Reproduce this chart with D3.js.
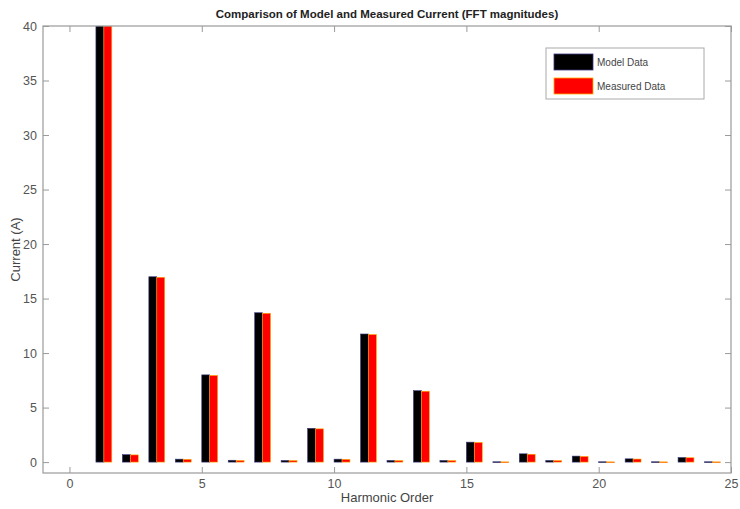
<!DOCTYPE html>
<html><head><meta charset="utf-8">
<script src="https://cdn.jsdelivr.net/npm/d3@7/dist/d3.min.js"></script>
<style>body{margin:0;background:#fff;} svg{display:block;font-family:"Liberation Sans",Arial,sans-serif;}</style>
</head><body>
<svg id="c" width="740" height="509"></svg>
<script>
const harmonics = [1,2,3,4,5,6,7,8,9,10,11,12,13,14,15,16,17,18,19,20,21,22,23,24];
const modelData = [40,0.68,17.0,0.27,8.0,0.17,13.7,0.15,3.1,0.27,11.75,0.15,6.55,0.15,1.83,0.03,0.76,0.15,0.55,0.03,0.3,0.03,0.42,0.03];
const measuredData = [40,0.66,16.95,0.25,7.95,0.15,13.65,0.14,3.05,0.25,11.7,0.14,6.5,0.14,1.8,0.02,0.72,0.14,0.52,0.02,0.28,0.02,0.4,0.02];
const xTicks = [0,5,10,15,20,25];
const yTicks = [0,5,10,15,20,25,30,35,40];
const seriesNames = ["Model Data","Measured Data"];
const seriesColors = ["#000000","#ff0000"];
const seriesEdges = ["#3a3a80","#ffb000"];

const svg = d3.select("#c");
const L=43, R=731, T=26, B=473;
const x = d3.scaleLinear().domain([-1,25]).range([L,R]);
const y = d3.scaleLinear().domain([-1,40]).range([B,T]);
const axisCol = "#9a9a9a", txtCol = "#555";

svg.append("defs").append("clipPath").attr("id","clip")
  .append("rect").attr("x",L).attr("y",T).attr("width",R-L).attr("height",B-T);

const g = svg.append("g").attr("clip-path","url(#clip)");
const bw = 0.3;
[modelData, measuredData].forEach((vals,si)=>{
  g.selectAll(null).data(harmonics).enter().append("rect")
    .attr("x", h=>x(h+si*bw))
    .attr("width", h=>x(h+bw)-x(h))
    .attr("y", (h,i)=>y(Math.max(vals[i],0)))
    .attr("height", (h,i)=>Math.max(y(0)-y(vals[i]),0.8))
    .attr("fill", seriesColors[si])
    .attr("stroke", seriesEdges[si]).attr("stroke-width",0.6);
});

// frame
svg.append("rect").attr("x",L).attr("y",T).attr("width",R-L).attr("height",B-T)
  .attr("fill","none").attr("stroke",axisCol).attr("stroke-width",1.2);

// axes
const xb = svg.append("g").attr("transform",`translate(0,${B})`)
  .call(d3.axisBottom(x).tickValues(xTicks).tickSize(-6).tickPadding(6).tickFormat(d3.format("d")));
const xt = svg.append("g").attr("transform",`translate(0,${T})`)
  .call(d3.axisTop(x).tickValues(xTicks).tickSize(-6).tickFormat(""));
const yl = svg.append("g").attr("transform",`translate(${L},0)`)
  .call(d3.axisLeft(y).tickValues(yTicks).tickSize(-6).tickPadding(6).tickFormat(d3.format("d")));
const yr = svg.append("g").attr("transform",`translate(${R},0)`)
  .call(d3.axisRight(y).tickValues(yTicks).tickSize(-6).tickFormat(""));
[xb,xt,yl,yr].forEach(a=>{
  a.select(".domain").remove();
  a.selectAll(".tick line").attr("stroke",axisCol);
  a.selectAll(".tick text").attr("fill",txtCol).attr("font-size",12.5).attr("font-family","Liberation Sans, Arial, sans-serif");
});

// title & labels
svg.append("text").attr("x",(L+R)/2).attr("y",18).attr("text-anchor","middle")
  .attr("font-size",11.5).attr("font-weight","bold").attr("fill","#222")
  .text("Comparison of Model and Measured Current (FFT magnitudes)");
svg.append("text").attr("x",(L+R)/2).attr("y",502).attr("text-anchor","middle")
  .attr("font-size",13).attr("fill","#444").text("Harmonic Order");
svg.append("text").attr("transform",`translate(20,${(T+B)/2}) rotate(-90)`).attr("text-anchor","middle")
  .attr("font-size",13).attr("fill","#444").text("Current (A)");

// legend
const lg = svg.append("g");
lg.append("rect").attr("x",546).attr("y",48).attr("width",158).attr("height",51)
  .attr("fill","#fff").attr("stroke","#aaa").attr("stroke-width",1);
seriesNames.forEach((n,i)=>{
  const yy = 54 + i*24;
  lg.append("rect").attr("x",554).attr("y",yy).attr("width",39).attr("height",16)
    .attr("fill",seriesColors[i]).attr("stroke",seriesEdges[i]).attr("stroke-width",0.8);
  lg.append("text").attr("x",597).attr("y",yy+12).attr("font-size",10).attr("fill","#444").text(n);
});
</script>
</body></html>
